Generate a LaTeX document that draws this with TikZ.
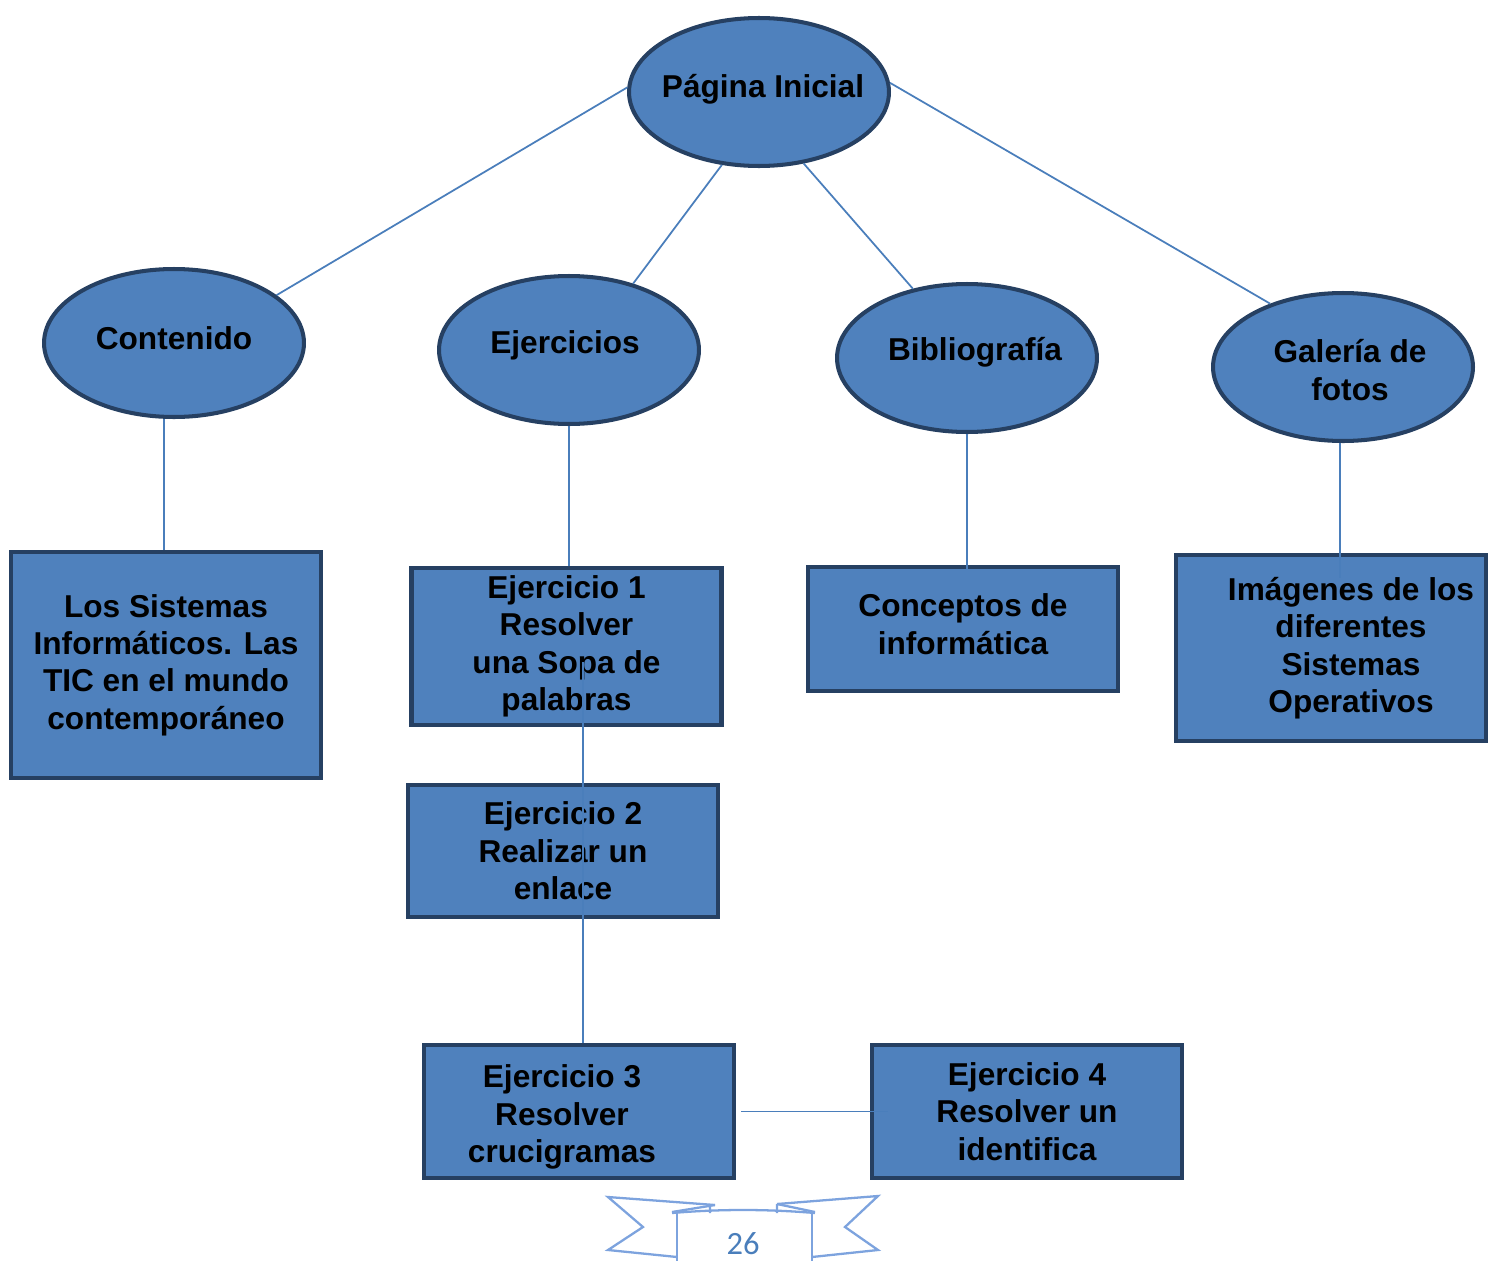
\documentclass[tikz,border=0pt]{standalone}
\usepackage{fontspec}
\setmainfont{Liberation Sans}
\newfontfamily\pagfont{Carlito}
\usetikzlibrary{shapes.geometric,positioning}
\definecolor{relleno}{RGB}{79,129,189}
\definecolor{borde}{RGB}{38,64,98}
\definecolor{linea}{RGB}{74,126,187}
\definecolor{cinta}{RGB}{125,163,222}
\newcommand\letra{\bfseries\fontsize{18}{21.3}\selectfont}
\tikzset{
  elip/.style={ellipse,draw=borde,fill=relleno,line width=2.3pt,minimum width=5.2cm,
    minimum height=2.96cm,inner sep=0pt},
  caja/.style={rectangle,draw=borde,fill=relleno,line width=2.5pt,minimum width=6.2cm,
    inner sep=0pt,align=center,font=\letra},
  texto/.style={align=center,font=\letra,inner sep=0pt},
  con/.style={draw=linea,line width=1pt},
  cin/.style={draw=cinta,line width=1.3pt,line join=miter},
}
\begin{document}
\begin{tikzpicture}[x=0.02cm,y=-0.02cm]
  \useasboundingbox (0,0) rectangle (1498,1261);
  % elipses
  \node[elip,label={[texto,name=pagt,xshift=0.08cm,yshift=0.06cm]center:Página Inicial}] (pag) at (759,92) {};
  \node[elip,label={[texto,name=contt,yshift=0.1cm]center:Contenido}] (cont) at (174,343) {};
  \node[elip,label={[texto,name=ejert,xshift=-0.08cm,yshift=0.1cm]center:Ejercicios}] (ejer) at (569,350) {};
  \node[elip,label={[texto,name=bibt,xshift=0.16cm,yshift=0.12cm]center:Bibliografía}] (bib) at (967,358) {};
  \node[elip,label={[texto,name=galt,xshift=0.14cm,yshift=-0.06cm]center:Galería de\\fotos}] (gal) at (1343,367) {};
  % cajas
  \node[caja,minimum height=4.52cm] (ls) at (166,665) {Los Sistemas\\Informáticos. Las\\TIC en el mundo\\contemporáneo};
  \node[caja,minimum height=3.14cm] (ej1) at (566.5,646.5) {Ejercicio 1\\Resolver\\una Sopa de\\palabras};
  \node[caja,minimum height=2.48cm,label={[texto,name=conct,yshift=0.1cm]center:Conceptos de\\informática}] (conc) at (963,629) {};
  \node[caja,minimum height=3.72cm,label={[texto,name=imgt,xshift=0.4cm]center:Imágenes de los\\diferentes\\Sistemas\\Operativos}] (img) at (1331,648) {};
  \node[caja,minimum height=2.64cm] (ej2) at (563,851) {Ejercicio 2\\Realizar un\\enlace};
  \node[caja,minimum height=2.66cm,label={[texto,name=ej3t,xshift=-0.34cm,yshift=-0.11cm]center:Ejercicio 3\\Resolver\\crucigramas}] (ej3) at (579,1111.5) {};
  \node[caja,minimum height=2.66cm] (ej4) at (1027,1111.5) {Ejercicio 4\\Resolver un\\identifica};
  % conectores
  \draw[con] (pag.178) -- (cont.25);
  \draw[con] (pag.243) -- (ejer.46);
  \draw[con] (pag.302) -- (bib.128);
  \draw[con] (pag.4) -- (gal.139);
  \draw[con] ([xshift=-0.2cm]cont.south) -- ([xshift=-0.2cm]cont.south |- ls.north);
  \draw[con] (ejer.south) -- (ejer.south |- ej1.north);
  \draw[con] (bib.south) -- ([yshift=-0.08cm]bib.south |- conc.north);
  \draw[con] ([xshift=-0.06cm]gal.south) -- ([xshift=-0.06cm,yshift=-0.5cm]gal.south |- img.north);
  \coordinate (e1c) at (583,662);
  \draw[con] (e1c) -- (e1c |- ej3.north);
  \draw[con] ([xshift=0.1cm]ej3.east) -- ([xshift=0.36cm]ej4.west);
  % cinta del numero de pagina
  \draw[cin] (715,1205) -- (608,1197) -- (643,1227) -- (608,1250) -- (677,1257);
  \draw[cin] (777,1204) -- (878,1196) -- (845,1227) -- (878,1250) -- (812,1257);
  \draw[cin] (715,1205) -- (672,1212) (710,1205) -- (710,1213);
  \draw[cin] (777,1204) -- (815,1212) (777,1204) -- (777,1213);
  \draw[cin] (672,1213) .. controls (720,1209) and (766,1209) .. (815,1213);
  \draw[cin] (677,1212) -- (677,1262) (812,1212) -- (812,1262);
  \node[font=\pagfont\fontsize{18.5}{20}\selectfont,text=linea] (pagina) at (743,1244) {26};
\end{tikzpicture}
\end{document}
